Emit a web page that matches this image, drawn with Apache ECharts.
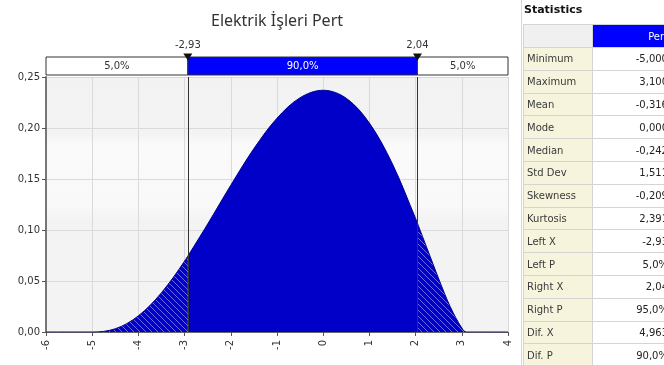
<!DOCTYPE html>
<html>
<head>
<meta charset="utf-8">
<script src="https://cdn.jsdelivr.net/npm/echarts@6/dist/echarts.min.js"></script>
<style>
  html, body { margin: 0; padding: 0; background: #fff; overflow: hidden; }
  #chart { position: absolute; left: 0; top: 0; width: 664px; height: 365px; }
  #stats { position: absolute; left: 521px; top: 0; width: 160px; height: 365px; border-left: 1px solid #d6d6d6; font-family: "DejaVu Sans", sans-serif; }
  #stats .head { position: absolute; left: 2px; top: 3px; font-size: 11px; font-weight: bold; color: #111; }
  #stats table { position: absolute; left: 1px; top: 24px; border-collapse: collapse; font-size: 10px; }
  #stats td { border: 1px solid #d4d4d4; padding: 0 3px; height: 21.8px; white-space: nowrap; }
  #stats td.n { width: 62px; background: #f6f4dc; color: #3a3a3a; }
  #stats td.v { width: 72px; text-align: right; color: #222; background: #fff; }
  #stats tr.h td { height: 22px; }
  #stats tr.h td.n { background: #f0f0f0; }
  #stats tr.h td.v { background: #0000ff; color: #fff; }
</style>
</head>
<body>
<div id="chart"></div>
<div id="stats"><div class="head">Statistics</div><table id="tbl"></table></div>
<script>
// density curve
const pertX = [-6, -5, -4.75, -4.5, -4.25, -4, -3.75, -3.5, -3.25, -3, -2.93, -2.5, -2, -1.5, -1, -0.5, 0, 0.5, 1, 1.5, 2, 2.04, 2.25, 2.5, 2.75, 3, 3.1, 4];
const pertY = [0, 0, 0.0006, 0.0032, 0.0082, 0.0159, 0.026, 0.0386, 0.0532, 0.0695, 0.0744, 0.1059, 0.1439, 0.1798, 0.2096, 0.2297, 0.237, 0.2291, 0.2048, 0.1646, 0.1113, 0.1067, 0.0818, 0.0522, 0.0248, 0.0039, 0, 0];
const leftX = -2.93;
const rightX = 2.04;
const markerLabels = ['-2,93', '2,04'];
const bandLabels = ['5,0%', '90,0%', '5,0%'];
const statNames = ['Minimum', 'Maximum', 'Mean', 'Mode', 'Median', 'Std Dev', 'Skewness', 'Kurtosis', 'Left X', 'Left P', 'Right X', 'Right P', 'Dif. X', 'Dif. P'];
const statValues = ['-5,000', '3,100', '-0,316', '0,000', '-0,242', '1,511', '-0,209', '2,391', '-2,93', '5,0%', '2,04', '95,0%', '4,963', '90,0%'];

// stats table
let html = '<tr class="h"><td class="n"></td><td class="v">Pert</td></tr>';
statNames.forEach((n, i) => {
  html += '<tr><td class="n">' + n + '</td><td class="v">' + statValues[i] + '</td></tr>';
});
document.getElementById('tbl').innerHTML = html;

const pts = pertX.map((x, i) => [x, pertY[i]]);
const leftPts = pts.filter(p => p[0] <= leftX);
const midPts = pts.filter(p => p[0] >= leftX && p[0] <= rightX);
const rightPts = pts.filter(p => p[0] >= rightX);

// hatch pattern for the tails
const hatch = document.createElement('canvas');
hatch.width = 6; hatch.height = 6;
const hc = hatch.getContext('2d');
hc.fillStyle = '#0000c8';
hc.fillRect(0, 0, 6, 6);
hc.strokeStyle = '#6a6ae6';
hc.lineWidth = 1;
hc.beginPath();
hc.moveTo(0, 0); hc.lineTo(6, 6);
hc.moveTo(-3, 3); hc.lineTo(3, 9);
hc.moveTo(3, -3); hc.lineTo(9, 3);
hc.stroke();

const fmt = v => v.toFixed(2).replace('.', ',');
const lineBase = {
  type: 'line',
  xAxisIndex: 0,
  yAxisIndex: 0,
  showSymbol: false,
  smooth: 0.35,
  lineStyle: { color: '#00008b', width: 1 },
  z: 3
};

const chart = echarts.init(document.getElementById('chart'));
chart.setOption({
  animation: false,
  title: {
    text: 'Elektrik İşleri Pert',
    left: 206,
    top: 8,
    textStyle: { fontFamily: 'Noto Sans', fontWeight: 'normal', fontSize: 16, color: '#333' }
  },
  grid: [
    {
      left: 46, right: 156, top: 77, bottom: 33, show: true, borderWidth: 0,
      backgroundColor: {
        type: 'linear', x: 0, y: 0, x2: 0, y2: 1,
        colorStops: [
          { offset: 0, color: '#f2f2f2' }, { offset: 0.22, color: '#f3f3f3' },
          { offset: 0.27, color: '#fafafa' }, { offset: 0.5, color: '#f9f9f9' },
          { offset: 0.56, color: '#f3f3f3' }, { offset: 1, color: '#f3f3f3' }
        ]
      }
    },
    { left: 46, right: 156, top: 57, height: 18 }
  ],
  xAxis: [
    {
      type: 'value', gridIndex: 0, min: -6, max: 4, interval: 1,
      axisLine: { show: true, onZero: false, lineStyle: { color: '#666', width: 1 } },
      axisTick: { show: true, length: 4, lineStyle: { color: '#555' } },
      axisLabel: { rotate: 90, fontSize: 10, color: '#333', fontFamily: 'DejaVu Sans', margin: 8 },
      splitLine: { show: true, lineStyle: { color: '#dadada' } }
    },
    { type: 'value', gridIndex: 1, min: -6, max: 4, show: false, axisLine: { show: false, onZero: false } }
  ],
  yAxis: [
    {
      type: 'value', gridIndex: 0, min: 0, max: 0.25, interval: 0.05,
      axisLine: { show: true, onZero: false, lineStyle: { color: '#777', width: 2 } },
      axisTick: { show: true, length: 4, lineStyle: { color: '#555' } },
      axisLabel: { formatter: fmt, fontSize: 10, color: '#333', fontFamily: 'DejaVu Sans', margin: 6 },
      splitLine: { show: true, lineStyle: { color: '#dadada' } }
    },
    { type: 'value', gridIndex: 1, min: 0, max: 1, show: false, axisLine: { show: false, onZero: false }, splitLine: { show: false } }
  ],
  series: [
    Object.assign({}, lineBase, { data: leftPts, areaStyle: { color: { image: hatch, repeat: 'repeat' }, opacity: 1 } }),
    Object.assign({}, lineBase, {
      data: midPts,
      areaStyle: { color: '#0000c8', opacity: 1 },
      markLine: {
        silent: true,
        symbol: ['none', 'none'],
        label: { show: false },
        lineStyle: { color: '#333', width: 1, type: 'solid' },
        data: [{ xAxis: leftX }, { xAxis: rightX }]
      }
    }),
    Object.assign({}, lineBase, { data: rightPts, areaStyle: { color: { image: hatch, repeat: 'repeat' }, opacity: 1 } }),
    {
      type: 'scatter',
      xAxisIndex: 1,
      yAxisIndex: 1,
      data: [[-6, 0]],
      symbolSize: 0,
      markArea: {
        silent: true,
        label: { show: true, position: 'inside', fontSize: 10, fontFamily: 'DejaVu Sans', color: '#333' },
        data: [
          [{ xAxis: -6, itemStyle: { color: '#fff', borderColor: '#333', borderWidth: 1 }, label: { formatter: bandLabels[0] } }, { xAxis: leftX }],
          [{ xAxis: leftX, itemStyle: { color: '#0000ff', borderColor: '#333', borderWidth: 1 }, label: { formatter: bandLabels[1], color: '#fff' } }, { xAxis: rightX }],
          [{ xAxis: rightX, itemStyle: { color: '#fff', borderColor: '#333', borderWidth: 1 }, label: { formatter: bandLabels[2] } }, { xAxis: 4 }]
        ]
      },
      markPoint: {
        silent: true,
        symbol: 'triangle',
        symbolRotate: 180,
        symbolSize: [9, 7],
        itemStyle: { color: '#111' },
        label: { show: true, position: 'top', distance: 3, fontSize: 10, fontFamily: 'DejaVu Sans', color: '#333' },
        data: [
          { coord: [leftX, 1], label: { formatter: markerLabels[0] } },
          { coord: [rightX, 1], label: { formatter: markerLabels[1] } }
        ]
      }
    }
  ]
});
</script>
</body>
</html>
